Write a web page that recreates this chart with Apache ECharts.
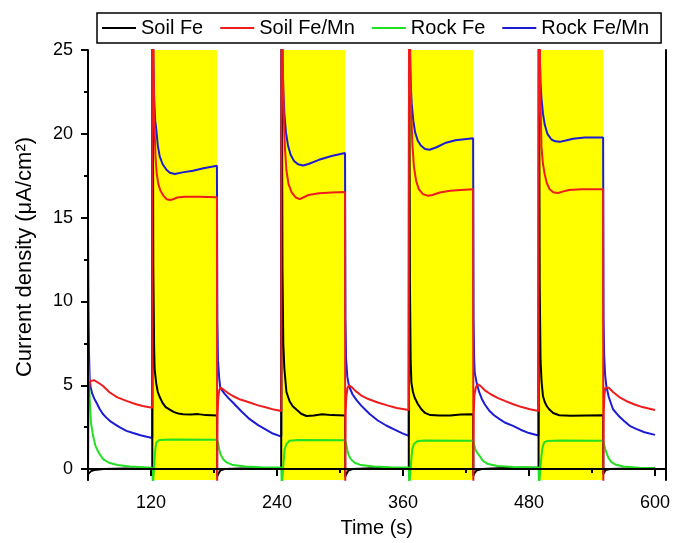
<!DOCTYPE html>
<html>
<head>
<meta charset="utf-8">
<script src="https://cdn.jsdelivr.net/npm/echarts@6/dist/echarts.min.js"></script>
<style>
  html, body { margin: 0; padding: 0; background: #fff; }
  #chart { width: 673px; height: 543px; }
</style>
</head>
<body>
<div id="chart"></div>
<script>
// Illumination periods (s): light on -> light off
const lightPeriods = [[121.3, 182.8], [244.2, 304.8], [365.6, 426.8], [489.2, 550.6]];

// Tick positions
const xMajorTicks = [120, 240, 360, 480, 600];
const xMinorTicks = [180, 300, 420, 540];
const yMajorTicks = [0, 5, 10, 15, 20, 25];
const yMinorTicks = [2.5, 7.5, 12.5, 17.5, 22.5];

// Series names
const seriesNames = ['Soil Fe', 'Soil Fe/Mn', 'Rock Fe', 'Rock Fe/Mn'];

// Soil Fe: [time (s), current density (uA/cm2)]
const soilFe = [
  [60, -0.3], [61, -0.25], [63, -0.12], [66, -0.05], [75, 0.0], [95, 0.03], [121.2, 0.05],
  [121.3, 0.05], [121.5, 30], [122.2, 12], [123, 7.2], [123.5, 5.95], [125, 5.1], [126.5, 4.6],
  [128.3, 4.3], [131, 3.95], [134, 3.7], [137.8, 3.55], [142, 3.4], [146, 3.32], [150.5, 3.27],
  [158, 3.25], [165, 3.28], [172, 3.22], [182.8, 3.2],
  [183.0, -0.45], [184, -0.3], [186, -0.08], [190, 0.0], [205, 0.04], [244, 0.06],
  [244.2, 0.06], [244.4, 30], [245.2, 12], [246, 7.5], [247, 6], [249, 4.6], [252, 4.05],
  [255, 3.75], [258.5, 3.55], [263, 3.3], [268, 3.17], [275, 3.2], [283, 3.27], [292, 3.22], [304.8, 3.2],
  [305, -0.45], [306, -0.3], [308, -0.08], [312, 0.0], [330, 0.05], [365.5, 0.08],
  [365.6, 0.08], [365.8, 30], [366.6, 11], [367.3, 6.5], [368, 5.16], [369.5, 4.6], [371.1, 4.27],
  [374, 3.9], [377.5, 3.57], [381, 3.35], [386, 3.22], [395, 3.2], [405, 3.2], [415, 3.25], [426.8, 3.27],
  [427, -0.4], [428, -0.25], [430, -0.08], [435, 0.0], [455, 0.07], [489.1, 0.1],
  [489.2, 0.1], [489.4, 30], [490.2, 11], [491, 6.5], [492, 5.2], [493.3, 4.36], [495, 4.0],
  [497, 3.75], [499.2, 3.57], [503, 3.35], [508.8, 3.21], [520, 3.18], [535, 3.2], [550.6, 3.21],
  [550.8, -0.3], [551.5, -0.2], [553, -0.05], [557, 0.0], [575, 0.04], [600, 0.05]
];

// Soil Fe/Mn
const soilFeMn = [
  [60, -0.7], [60.4, 3.5], [61, 4.8], [62, 5.25], [63.2, 5.36], [66, 5.3], [70, 5.15], [74.3, 4.96],
  [80.7, 4.57], [88, 4.28], [96.6, 4.07], [105, 3.88], [112, 3.76], [121.2, 3.66],
  [121.3, 3.66], [121.5, 40], [122.5, 24], [123.3, 20.5], [124.3, 18.6], [125.5, 17.6], [127, 17.0],
  [129, 16.6], [132, 16.3], [135, 16.1], [138, 16.05], [141, 16.1], [145, 16.2], [152, 16.25],
  [165, 16.25], [182.8, 16.22],
  [183.0, -0.7], [183.4, 3.2], [184, 4.2], [185, 4.7], [186.1, 4.86], [189, 4.75], [193, 4.55],
  [198, 4.36], [205, 4.15], [214, 3.97], [222, 3.8], [230, 3.67], [237, 3.55], [244.1, 3.47],
  [244.2, 3.47], [244.4, 40], [245.6, 24], [246.5, 21], [247.5, 19.2], [249, 17.8], [251, 17],
  [254, 16.5], [258, 16.2], [261.6, 16.1], [265, 16.2], [270, 16.35], [280, 16.45], [292, 16.5], [304.8, 16.53],
  [305, -0.7], [305.4, 3.3], [306, 4.3], [307.2, 4.85], [308.6, 5.0], [311, 4.9], [315, 4.65],
  [320, 4.4], [327, 4.18], [336, 3.97], [345, 3.8], [354, 3.65], [365.5, 3.52],
  [365.6, 3.52], [365.8, 40], [367, 24], [368, 21], [369, 19.3], [370.5, 18], [372.5, 17.2],
  [375, 16.7], [379, 16.4], [384, 16.3], [388, 16.35], [395, 16.5], [405, 16.6], [415, 16.65], [426.8, 16.7],
  [427, -0.7], [427.4, 3.3], [428, 4.4], [429.5, 4.9], [431.4, 5.06], [434, 4.95], [438, 4.7],
  [444, 4.45], [450, 4.25], [456.9, 4.07], [465, 3.87], [473, 3.7], [481, 3.57], [489.1, 3.47],
  [489.2, 3.47], [489.4, 40], [490.6, 23], [491.9, 19.2], [493.3, 18.2], [495, 17.58], [497, 17.05],
  [499.7, 16.69], [503, 16.52], [507.6, 16.47], [512, 16.55], [518, 16.65], [530, 16.69], [550.6, 16.69],
  [550.8, -0.7], [551.2, 3.3], [551.8, 4.4], [552.7, 4.85], [553.7, 4.96], [556, 4.85], [560, 4.6],
  [566, 4.3], [573, 4.05], [580, 3.87], [588, 3.7], [600, 3.53]
];

// Rock Fe
const rockFe = [
  [60, 6.5], [61, 5.0], [62, 3.6], [63, 2.7], [64.8, 2.0], [67, 1.4], [70, 1.0], [74.3, 0.6],
  [80, 0.38], [88, 0.25], [100, 0.15], [121.2, 0.08],
  [121.3, 0.08], [121.8, -1], [122.8, -1], [123.6, 0.8], [124.3, 1.3], [125.1, 1.59], [126.5, 1.7],
  [128, 1.74], [140, 1.76], [182.8, 1.75],
  [183, 1.78], [184, 1.55], [185, 1.15], [186.5, 0.85], [188.6, 0.6], [192, 0.4], [198, 0.24],
  [210, 0.15], [225, 0.11], [244.1, 0.1],
  [244.2, 0.1], [244.6, -1], [245.8, -1], [246.5, 0.6], [247.3, 1.19], [249, 1.5], [252, 1.69],
  [260, 1.73], [304.8, 1.72],
  [305, 1.75], [306, 1.5], [307, 1.1], [308.5, 0.8], [310.5, 0.58], [314, 0.38], [320, 0.24],
  [332, 0.15], [348, 0.11], [365.5, 0.1],
  [365.6, 0.1], [366, -1], [367.2, -1], [368, 0.6], [368.8, 1.2], [370.5, 1.5], [373.5, 1.66],
  [380, 1.7], [426.8, 1.69],
  [427, 1.7], [427.8, 1.45], [429, 1.15], [431, 0.95], [433, 0.79], [436, 0.5], [441, 0.3],
  [450, 0.18], [465, 0.13], [489.1, 0.1],
  [489.2, 0.1], [489.6, -1], [490.8, -1], [491.6, 0.6], [492.4, 1.1], [493.3, 1.39], [494.5, 1.59],
  [497, 1.67], [510, 1.7], [550.6, 1.69],
  [550.8, 1.7], [551.6, 1.45], [552.6, 1.2], [553.7, 1.0], [555.5, 0.7], [558, 0.45], [562, 0.28],
  [570, 0.16], [585, 0.08], [600, 0.05]
];

// Rock Fe/Mn
const rockFeMn = [
  [60, 14.5], [60.5, 9.5], [61, 6.8], [61.6, 5.4], [62.5, 4.9], [64, 4.5], [66, 4.2], [68, 3.97],
  [71, 3.6], [74, 3.3], [77, 3.1], [80.7, 2.88], [85, 2.7], [90, 2.5], [96.6, 2.28], [103, 2.15],
  [110, 2.02], [116, 1.93], [121.2, 1.86],
  [121.3, 1.86], [121.5, 32], [122, 25], [123, 22], [124, 20.8], [125.1, 20.2], [126.5, 19.3],
  [128.3, 18.65], [131, 18.2], [134.7, 17.86], [138, 17.68], [142.6, 17.6], [150, 17.7], [160, 17.8],
  [170, 17.95], [182.8, 18.1],
  [183, 18.1], [183.2, 9], [183.8, 6.5], [185, 5.4], [186, 4.85], [190, 4.5], [194, 4.22], [198, 3.97],
  [206, 3.45], [214, 2.98], [222, 2.62], [229.9, 2.34], [236, 2.12], [244.1, 1.94],
  [244.2, 1.94], [244.4, 32], [245, 25], [246, 22.5], [247, 21.2], [248.5, 20.1], [250.5, 19.3],
  [253, 18.75], [256, 18.4], [260, 18.18], [264.8, 18.11], [270, 18.2], [280, 18.45], [292, 18.68], [304.8, 18.85],
  [305, 18.85], [305.2, 9], [305.8, 6.6], [307, 5.5], [308.6, 4.95], [312, 4.45], [316, 4.1],
  [320, 3.8], [328, 3.3], [336, 2.9], [344, 2.6], [352, 2.35], [359, 2.15], [365.5, 1.98],
  [365.6, 1.98], [365.8, 32], [366.4, 25.5], [367.3, 23], [368.3, 21.8], [369.8, 20.8], [371.5, 20.1],
  [374, 19.6], [377, 19.3], [381, 19.1], [385.4, 19.05], [392, 19.2], [400, 19.45], [410, 19.62], [426.8, 19.74],
  [427, 19.74], [427.2, 9], [427.8, 6.6], [428.3, 5.75], [430, 5.2], [432.5, 4.6], [435, 4.2],
  [437.8, 3.87], [442, 3.5], [447, 3.2], [452, 2.98], [456.9, 2.78], [464.8, 2.58], [472, 2.35],
  [480, 2.15], [489.1, 2.0],
  [489.2, 2.0], [489.4, 32], [490, 25.5], [491, 23], [491.9, 22.1], [493.3, 21.2], [495, 20.55],
  [497.5, 20], [501.4, 19.66], [505, 19.55], [509.3, 19.52], [515, 19.6], [522, 19.7], [533, 19.78], [550.6, 19.78],
  [550.8, 19.78], [551, 9], [551.6, 6.8], [552.5, 5.6], [553.7, 4.95], [556, 4.3], [560, 3.57],
  [565, 3.2], [570, 2.9], [575.9, 2.58], [582, 2.4], [590, 2.2], [600, 2.04]
];

const seriesData = [soilFe, soilFeMn, rockFe, rockFeMn];
const seriesColors = ['#000000', '#ee1c1c', '#22e022', '#1c1cd4'];
const seriesZ = [4, 6, 5, 3];

const FONT = '"Liberation Sans", Arial, Helvetica, sans-serif';
const X_MIN = 60, X_MAX = 610, Y_MIN = -0.65, Y_MAX = 25;

const chart = echarts.init(document.getElementById('chart'), null, { renderer: 'canvas' });

const boxLine = { show: true, lineStyle: { color: '#000', width: 2 } };

const option = {
  animation: false,
  backgroundColor: '#fff',
  textStyle: { fontFamily: FONT, color: '#000' },
  grid: { left: 88, right: 7, top: 50, bottom: 62, containLabel: false },
  legend: {
    data: seriesNames,
    left: 97,
    top: 13,
    orient: 'horizontal',
    icon: 'rect',
    itemWidth: 34,
    itemHeight: 2,
    itemGap: 17,
    padding: [5, 12, 5, 5],
    borderColor: '#000',
    borderWidth: 1.5,
    textStyle: { fontFamily: FONT, fontSize: 20, color: '#000' }
  },
  xAxis: [
    {
      type: 'value', min: X_MIN, max: X_MAX, position: 'bottom', z: 10,
      axisLine: boxLine,
      axisTick: { show: true, inside: false, length: 7, customValues: xMajorTicks, lineStyle: { color: '#000', width: 2 } },
      axisLabel: { show: true, customValues: xMajorTicks, fontSize: 18, color: '#000', fontFamily: FONT, margin: 14 },
      splitLine: { show: false },
      name: 'Time (s)', nameLocation: 'middle', nameGap: 38,
      nameTextStyle: { fontSize: 20, color: '#000', fontFamily: FONT }
    },
    {
      type: 'value', min: X_MIN, max: X_MAX, position: 'bottom', z: 10,
      axisLine: { show: false },
      axisTick: { show: true, inside: false, length: 4, customValues: xMinorTicks, lineStyle: { color: '#000', width: 2 } },
      axisLabel: { show: false },
      splitLine: { show: false }
    },
    {
      type: 'value', min: X_MIN, max: X_MAX, position: 'top', z: 10,
      axisLine: boxLine, axisTick: { show: false }, axisLabel: { show: false }, splitLine: { show: false }
    }
  ],
  yAxis: [
    {
      type: 'value', min: Y_MIN, max: Y_MAX, position: 'left', z: 10,
      axisLine: boxLine,
      axisTick: { show: true, inside: false, length: 7, customValues: yMajorTicks, lineStyle: { color: '#000', width: 2 } },
      axisLabel: { show: true, customValues: yMajorTicks, fontSize: 18, color: '#000', fontFamily: FONT, margin: 15 },
      splitLine: { show: false },
      name: 'Current density (μA/cm²)', nameLocation: 'middle', nameGap: 52, nameRotate: 90,
      nameTextStyle: { fontSize: 22, color: '#000', fontFamily: FONT, padding: [0, 0, 0, 16] }
    },
    {
      type: 'value', min: Y_MIN, max: Y_MAX, position: 'left', z: 10,
      axisLine: { show: false },
      axisTick: { show: true, inside: false, length: 4, customValues: yMinorTicks, lineStyle: { color: '#000', width: 2 } },
      axisLabel: { show: false },
      splitLine: { show: false }
    },
    {
      type: 'value', min: Y_MIN, max: Y_MAX, position: 'right', z: 10,
      axisLine: boxLine, axisTick: { show: false }, axisLabel: { show: false }, splitLine: { show: false }
    }
  ],
  series: [
    // yellow shading for the illuminated intervals
    {
      name: 'light',
      type: 'line',
      data: [],
      z: 1,
      silent: true,
      markArea: {
        silent: true,
        itemStyle: { color: '#ffff00', opacity: 1 },
        data: lightPeriods.map(p => [{ xAxis: p[0] }, { xAxis: p[1] }])
      }
    }
  ].concat(seriesNames.map((name, i) => ({
    name: name,
    type: 'line',
    data: seriesData[i],
    showSymbol: false,
    symbol: 'none',
    clip: true,
    z: seriesZ[i],
    color: seriesColors[i],
    lineStyle: { color: seriesColors[i], width: 2 }
  })))
};

chart.setOption(option);
</script>
</body>
</html>
